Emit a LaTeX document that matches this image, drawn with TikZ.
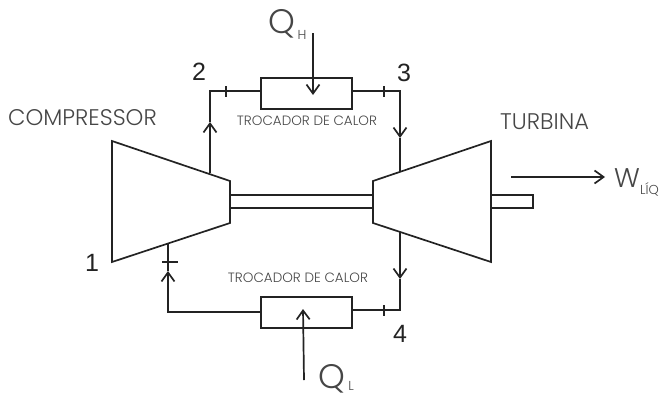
\documentclass[tikz,border=0pt]{standalone}
\usepackage{fontspec}
\setmainfont{Poppins Light}
\newfontfamily\numfont{Liberation Sans}
\usetikzlibrary{arrows.meta}
\definecolor{ink}{RGB}{35,35,35}
\definecolor{lab}{RGB}{70,70,70}
\tikzset{
  pipe/.style={draw=ink,line width=1.7pt,line join=miter},
  flow/.style={pipe,-{Straight Barb[length=9pt,width=13pt,line width=1.7pt]}},
  hx/.style={draw=ink,line width=1.7pt,minimum width=91pt,minimum height=31pt,inner sep=0pt,anchor=north west},
  tick/.style={draw=ink,line width=1.4pt},
  big/.style={text=lab,inner sep=0pt,font=\fontsize{22.6}{23}\selectfont},
  small/.style={text=lab,inner sep=0pt,font=\fontsize{13.5}{14}\selectfont},
  num/.style={text=ink,inner sep=0pt,font=\numfont\fontsize{25}{25}\selectfont},
  sym/.style={text=lab,inner sep=0pt,font=\fontsize{34}{34}\selectfont},
  wsym/.style={text=lab,inner sep=0pt,font=\fontsize{27}{27}\selectfont},
  sub/.style={text=lab,inner sep=0pt,font=\fontsize{13}{14}\selectfont}
}
\begin{document}
\begin{tikzpicture}[x=1pt,y=-1pt]
\useasboundingbox (0,0) rectangle (661,394);
% machines
\coordinate (c1) at (112,141); \coordinate (c2) at (230,181);
\coordinate (c3) at (230,223); \coordinate (c4) at (112,262);
\coordinate (t1) at (373,181); \coordinate (t2) at (491,141);
\coordinate (t3) at (491,262); \coordinate (t4) at (373,223);
\draw[pipe] (c1) -- (c2) -- (c3) -- (c4) -- cycle;
\draw[pipe] (t1) -- (t2) -- (t3) -- (t4) -- cycle;
% shafts
\coordinate (sa) at (230,195); \coordinate (sb) at (373,195);
\coordinate (sc) at (230,208); \coordinate (sd) at (373,208);
\draw[pipe] (sa) -- (sb); \draw[pipe] (sc) -- (sd);
\coordinate (oa) at (491,195); \coordinate (ob) at (533,195);
\coordinate (oc) at (533,208); \coordinate (od) at (491,208);
\draw[pipe] (oa) -- (ob) -- (oc) -- (od);
% heat exchangers
\node[hx] (hot) at (260,77) {};
\node[hx] (cold) at (260,296) {};
% top loop
\coordinate (p2out) at (210,173); \coordinate (p2a) at (210,122);
\coordinate (p2c) at (210,91);
\draw[flow] (p2out) -- (p2a);
\draw[pipe] (p2a) -- (p2c) -- (hot.west |- p2c);
\coordinate (p3c) at (400,91); \coordinate (p3a) at (400,138);
\coordinate (p3in) at (400,171);
\draw[flow] (hot.east |- p3c) -- (p3c) -- (p3a);
\draw[pipe] (p3a) -- (p3in);
% bottom loop
\coordinate (p4out) at (400,232); \coordinate (p4a) at (400,279);
\coordinate (p4c) at (400,310);
\draw[flow] (p4out) -- (p4a);
\draw[pipe] (p4a) -- (p4c) -- (cold.east |- p4c);
\coordinate (p1c) at (168,312); \coordinate (p1a) at (168,271);
\coordinate (p1in) at (168,244);
\draw[flow] (cold.west |- p1c) -- (p1c) -- (p1a);
\draw[pipe] (p1a) -- (p1in);
% ticks
\coordinate (k1a) at (226,86); \coordinate (k1b) at (226,97);
\coordinate (k2a) at (384,86); \coordinate (k2b) at (384,97);
\coordinate (k3a) at (384,305); \coordinate (k3b) at (384,316);
\coordinate (k4a) at (162,262); \coordinate (k4b) at (178,262);
\draw[tick] (k1a) -- (k1b); \draw[tick] (k2a) -- (k2b);
\draw[tick] (k3a) -- (k3b); \draw[tick] (k4a) -- (k4b);
% heat and work arrows
\coordinate (qhs) at (313,33); \coordinate (qhe) at (313,95);
\coordinate (qls) at (304,380); \coordinate (qle) at (303,309);
\coordinate (ws) at (511,177); \coordinate (we) at (605,177);
\draw[flow] (qhs) -- (qhe);
\draw[flow] (qls) -- (qle);
\draw[flow] (ws) -- (we);
% labels
\node[big,anchor=west] (compl) at (8,118) {COMPRESSOR};
\node[big,anchor=west] (turbl) at (500,122) {TURBINA};
\node[small] (tr1) at (307,121) {TROCADOR DE CALOR};
\node[small] (tr2) at (298,278) {TROCADOR DE CALOR};
\node[num] (n1) at (92,263) {1};
\node[num] (n2) at (199,72) {2};
\node[num] (n3) at (404,73) {3};
\node[num] (n4) at (400,334) {4};
\node[sym] (qh) at (282,24) {Q};
\node[sub] (qhsub) at (302,35) {H};
\node[sym] (ql) at (332,379) {Q};
\node[sub] (qlsub) at (351,386) {L};
\node[wsym] (w) at (627,178) {W};
\node[sub,anchor=west] (wsub) at (640,189) {LÍQ};
\end{tikzpicture}
\end{document}
